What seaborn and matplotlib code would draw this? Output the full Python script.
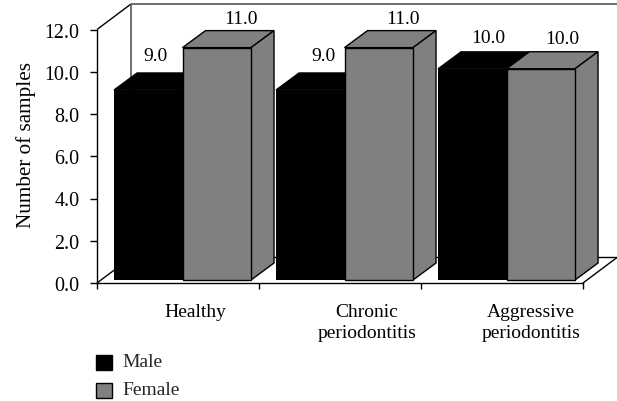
import matplotlib
matplotlib.use("Agg")
import matplotlib.pyplot as plt
import matplotlib.transforms as mtrans
from matplotlib.patches import Polygon
import pandas as pd
import seaborn as sns

categories = ["Healthy", "Chronic\nperiodontitis", "Aggressive\nperiodontitis"]
male = [9.0, 9.0, 10.0]
female = [11.0, 11.0, 10.0]
series_names = ["Male", "Female"]
yticks = [0, 2, 4, 6, 8, 10, 12]

BLACK = "#000000"
GRAY = "#808080"
FS = 14

sns.set_theme(style="white")
plt.rcParams["font.family"] = ["Liberation Serif", "DejaVu Serif"]

df = pd.DataFrame({
    "category": categories * 2,
    "sex": [series_names[0]] * 3 + [series_names[1]] * 3,
    "value": male + female,
})

W, H = 617, 402
fig = plt.figure(figsize=(W / 100, H / 100), dpi=100)
ax = fig.add_axes([97 / W, (H - 284) / H, 486 / W, 253.5 / H])

sns.barplot(data=df, x="category", y="value", hue="sex", order=categories,
            hue_order=series_names, palette=[BLACK, GRAY], width=0.846,
            saturation=1, dodge=True, ax=ax, errorbar=None)
ax.set_xlim(-0.5, 2.5)
ax.set_ylim(0, 12)

# oblique projection in data units
sx, sy = 4.5 / 162, 3 / 21.12        # bar shift from the front plane
bx, by = 23 / 162, 17 / 21.12        # bar depth
wx, wy = 34 / 162, 25.5 / 21.12      # wall depth

# walls and floor
wall = dict(clip_on=False, zorder=0.5, solid_capstyle="butt")
ax.plot([-0.5, -0.5 + wx], [12, 12 + wy], color="black", lw=1, **wall)
ax.plot([-0.5, -0.5 + wx], [0, wy], color="black", lw=1, **wall)
ax.plot([2.5, 2.5 + wx], [0, wy], color="black", lw=1, **wall)
ax.plot([-0.5 + wx, 2.5 + wx], [wy, wy], color="black", lw=1, **wall)
ax.plot([-0.5 + wx, -0.5 + wx], [wy, 12 + wy], color="#555555", lw=1.2, **wall)
ax.plot([-0.5 + wx, 2.5 + wx], [12 + wy, 12 + wy], color="#555555", lw=1.2, **wall)

# 3-D faces built from the bars seaborn drew
label_dx = {0: [0.046, 0.080, 0.099], 1: [0.152, 0.148, 0.130]}
label_dy = {0: [1.75, 1.75, 1.62], 1: [1.52, 1.52, 1.57]}
for s, container in enumerate(ax.containers):
    for i, bar in enumerate(container):
        x0 = bar.get_x() + sx
        w = bar.get_width()
        h = bar.get_height()
        bar.set_x(x0)
        bar.set_y(sy)
        bar.set_clip_on(False)
        top = h + sy
        if s == 0:
            bar.set_edgecolor("none")
            bar.set_zorder(2)
            ax.add_patch(Polygon([(x0, top), (x0 + bx, top + by),
                                  (x0 + w + bx, top + by), (x0 + w, top)],
                                 fc=BLACK, ec=BLACK, lw=0.8, zorder=2, clip_on=False))
        else:
            bar.set_edgecolor("black")
            bar.set_linewidth(1.0)
            bar.set_zorder(4)
            ax.add_patch(Polygon([(x0, top), (x0 + bx, top + by),
                                  (x0 + w + bx, top + by), (x0 + w, top)],
                                 fc=GRAY, ec="black", lw=1.0, zorder=3, clip_on=False))
            ax.add_patch(Polygon([(x0 + w, sy), (x0 + w + bx, sy + by),
                                  (x0 + w + bx, top + by), (x0 + w, top)],
                                 fc=GRAY, ec="black", lw=1.0, zorder=3, clip_on=False))
        ax.text(x0 + w / 2 + label_dx[s][i], h + label_dy[s][i], f"{h:.1f}",
                ha="center", va="center", fontsize=FS, color="black", zorder=5)

# axes
for side in ("top", "right"):
    ax.spines[side].set_visible(False)
for side in ("left", "bottom"):
    ax.spines[side].set_color("black")
    ax.spines[side].set_linewidth(1.0)
    ax.spines[side].set_zorder(1)

ax.set_yticks(yticks, [f"{v:.1f}" for v in yticks], fontsize=14.4, color="black")
ax.set_ylabel("Number of samples", fontsize=15.2, color="black", labelpad=6.5, y=0.548)
ax.set_xlabel("")
ax.tick_params(axis="y", which="major", left=True, length=5, width=1, pad=7.5, color="black")

ax.set_xticks([-0.5, 0.5, 1.5, 2.5], ["", "", "", ""])
ax.tick_params(axis="x", which="major", bottom=True, length=4.5, width=1, color="black")
ax.set_xticks([0, 1, 2], categories, minor=True, fontsize=FS, color="black", linespacing=1.3)
ax.tick_params(axis="x", which="minor", bottom=False, length=0, pad=14.5)
tick_label_dx = [17, 27, 29]
for lab, dx in zip(ax.get_xticklabels(minor=True), tick_label_dx):
    lab.set_transform(lab.get_transform() + mtrans.Affine2D().translate(dx, 0))
    lab.set_va("top")

handles, labels = ax.get_legend_handles_labels()
for hd in handles:
    hd.set_edgecolor("black")
    hd.set_linewidth(1.0)
leg = ax.legend(handles, labels, loc="upper left", bbox_to_anchor=(96 / W, 1 - 353 / H),
                bbox_transform=fig.transFigure, frameon=False, fontsize=FS, borderpad=0,
                borderaxespad=0, handlelength=0.8, handleheight=0.8, handletextpad=0.55,
                labelspacing=0.5)
for hd in leg.legend_handles:
    hd.set_y(hd.get_y() - 2)

fig.savefig("out.png", dpi=100)
